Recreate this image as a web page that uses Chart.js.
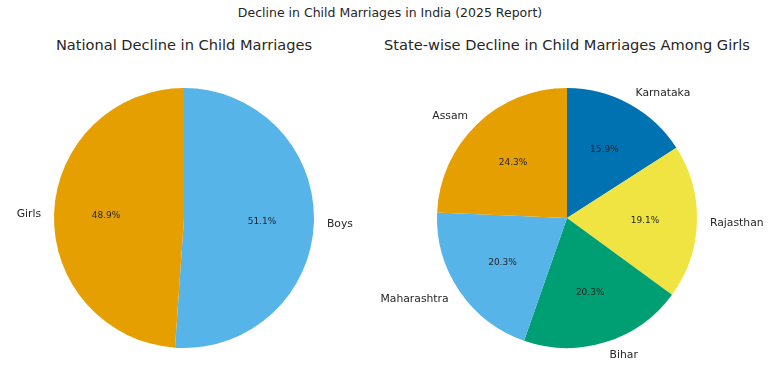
<!DOCTYPE html>
<html>
<head>
<meta charset="utf-8">
<script src="https://cdn.jsdelivr.net/npm/chart.js@4"></script>
<style>
  html, body { margin: 0; padding: 0; background: #ffffff; }
  body { width: 781px; height: 391px; position: relative; overflow: hidden; font-family: "DejaVu Sans", sans-serif; color: #262626; }
  .t { position: absolute; text-align: center; white-space: nowrap; }
  canvas { position: absolute; top: 0; }
</style>
</head>
<body>
<div class="t" style="left:190px; width:400px; top:5px; font-size:12.5px; line-height:16px;">Decline in Child Marriages in India (2025 Report)</div>
<div class="t" style="left:-16px; width:400px; top:35px; font-size:14.6px; line-height:20px;">National Decline in Child Marriages</div>
<div class="t" style="left:367px; width:400px; top:35px; font-size:14.6px; line-height:20px;">State-wise Decline in Child Marriages Among Girls</div>
<canvas id="c1" width="390" height="391" style="left:0px;"></canvas>
<canvas id="c2" width="451" height="391" style="left:330px;"></canvas>
<script>
const genderLabels = ['Boys', 'Girls'];
const genderValues = [51.1, 48.9];
const genderColors = ['#56B4E9', '#E69F00'];

const stateLabels = ['Karnataka', 'Rajasthan', 'Bihar', 'Maharashtra', 'Assam'];
const stateValues = [15.9, 19.1, 20.3, 20.3, 24.3];
const stateColors = ['#0072B2', '#F0E442', '#009E73', '#56B4E9', '#E69F00'];

const pieLabelPlugin = {
  id: 'pieLabels',
  afterDatasetsDraw(chart) {
    const ctx = chart.ctx;
    const meta = chart.getDatasetMeta(0);
    const data = chart.data.datasets[0].data;
    const total = data.reduce((a, b) => a + b, 0);
    const labels = chart.data.labels;
    ctx.save();
    meta.data.forEach((arc, i) => {
      const mid = (arc.startAngle + arc.endAngle) / 2;
      const r = arc.outerRadius;
      const c = Math.cos(mid), s = Math.sin(mid);
      ctx.font = '10.8px "DejaVu Sans"';
      ctx.fillStyle = '#262626';
      ctx.textBaseline = 'middle';
      ctx.textAlign = c > 0 ? 'left' : 'right';
      ctx.fillText(labels[i], arc.x + 1.1 * r * c, arc.y + 1.1 * r * s + 1);
      ctx.font = '9px "DejaVu Sans"';
      ctx.textAlign = 'center';
      ctx.fillText((data[i] / total * 100).toFixed(1) + '%', arc.x + 0.6 * r * c, arc.y + 0.6 * r * s + 0.5);
    });
    ctx.restore();
  }
};

function makePie(id, labels, values, colors, padding) {
  return new Chart(document.getElementById(id), {
    type: 'pie',
    data: {
      labels: labels,
      datasets: [{ data: values, backgroundColor: colors, borderWidth: 0, hoverOffset: 0 }]
    },
    options: {
      responsive: false,
      animation: false,
      layout: { padding: padding },
      plugins: { legend: { display: false }, tooltip: { enabled: false }, title: { display: false } }
    },
    plugins: [pieLabelPlugin]
  });
}

makePie('c1', genderLabels, genderValues, genderColors, { left: 54, right: 76, top: 88, bottom: 43 });
makePie('c2', stateLabels, stateValues, stateColors, { left: 107, right: 84, top: 88, bottom: 43 });
</script>
</body>
</html>
